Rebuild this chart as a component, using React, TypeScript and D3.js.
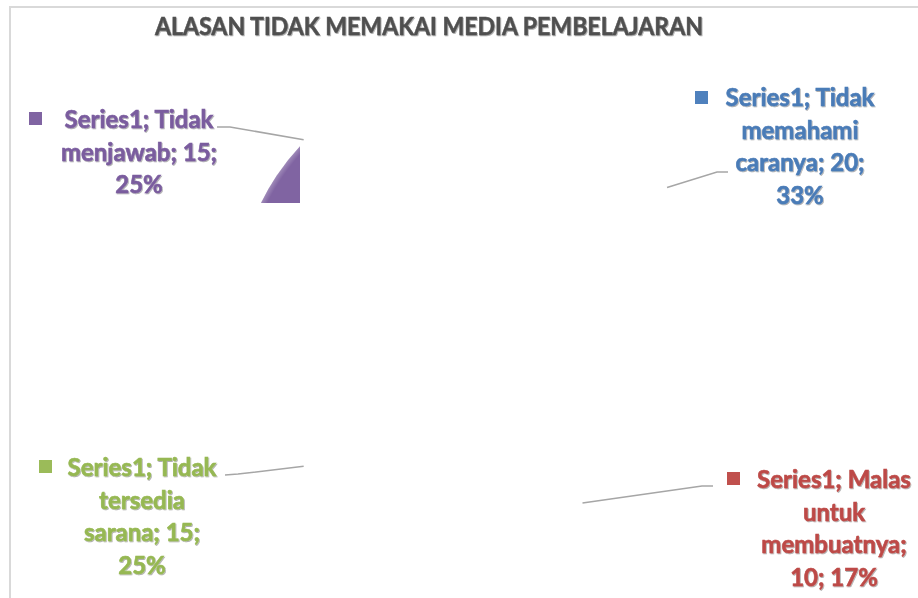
import React from "react";
import * as d3 from "d3";

const title = "ALASAN TIDAK MEMAKAI MEDIA PEMBELAJARAN";
const seriesName = "Series1";
const categories = ["Tidak memahami caranya", "Malas untuk membuatnya", "Tidak tersedia sarana", "Tidak menjawab"];
const values = [20, 10, 15, 15];
const colors = ["#4F81BD", "#C0504D", "#9BBB59", "#8064A2"];
const textColors = ["#4A7BB7", "#BD4A47", "#96B852", "#7A5C9E"];

// layout (not data)
const W = 918, H = 598;
const center = { x: 467, y: 303 };
const radius = 229;
const leaderR = 231;
const lineGap = 32.5;
const labelLayout = [
  { cx: 800, b1: 106, sq: [695, 91], breaks: [2, 1, 2, 1], elbow: [717, 172], end: [728, 172] },
  { cx: 834, b1: 488, sq: [727, 472], breaks: [2, 1, 1, 2], elbow: [702, 486], end: [713, 486] },
  { cx: 142, b1: 476, sq: [39, 460], breaks: [2, 1, 2, 1], elbow: [238, 474], end: [225, 475] },
  { cx: 139, b1: 128, sq: [29, 112], breaks: [2, 2, 1], elbow: [230, 127], end: [217, 127] },
];

export default function App() {
  const total = d3.sum(values);
  const pct = d3.format(".0%");
  const pie = d3.pie<number>().sort(null).value((d) => d)(values);
  const arc = d3.arc<d3.PieArcDatum<number>>().innerRadius(0).outerRadius(radius);
  const line = d3.line();

  return (
    <svg width={W} height={H} style={{ position: "absolute", left: 0, top: 0, background: "#fff" }}>
      <defs>
        <clipPath id="pieclip" clipPathUnits="userSpaceOnUse">
          <rect x={0} y={0} width={300} height={203} />
        </clipPath>
        <radialGradient id="edge" cx={center.x} cy={center.y} r={radius} gradientUnits="userSpaceOnUse">
          <stop offset="0.975" stopColor="#fff" stopOpacity={0} />
          <stop offset="1" stopColor="#fff" stopOpacity={0.25} />
        </radialGradient>
        <filter id="ts" x="-5%" y="-20%" width="110%" height="140%">
          <feDropShadow dx="0.8" dy="1" stdDeviation="0.7" floodColor="#000" floodOpacity="0.35" />
        </filter>
      </defs>
      <rect x={10} y={7} width={2000} height={2000} fill="#fff" stroke="#d9d9d9" strokeWidth={2} />
      <text
        x={429}
        y={35}
        textAnchor="middle"
        fontFamily="Lato, 'Open Sans', sans-serif"
        fontWeight={700}
        fontSize={24}
        fill="#505050"
        stroke="#505050"
        strokeWidth={0.5}
        textLength={548}
        lengthAdjust="spacingAndGlyphs"
        filter="url(#ts)"
      >
        {title}
      </text>
      <g clipPath="url(#pieclip)">
        <g transform={`translate(${center.x},${center.y})`}>
          {pie.map((p, i) => (
            <path key={i} d={arc(p) || ""} fill={colors[i]} />
          ))}
        </g>
        <circle cx={center.x} cy={center.y} r={radius} fill="url(#edge)" />
      </g>
      {pie.map((p, i) => {
        const L = labelLayout[i];
        const mid = (p.startAngle + p.endAngle) / 2;
        const sx = center.x + leaderR * Math.sin(mid);
        const sy = center.y - leaderR * Math.cos(mid);
        const label = `${seriesName}; ${categories[i]}; ${values[i]}; ${pct(values[i] / total)}`;
        const words = label.split(" ");
        const lines: string[] = [];
        let k = 0;
        L.breaks.forEach((n) => {
          lines.push(words.slice(k, k + n).join(" "));
          k += n;
        });
        return (
          <g key={i}>
            <path
              d={line([[sx, sy], L.elbow as [number, number], L.end as [number, number]]) || ""}
              fill="none"
              stroke="#a6a6a6"
              strokeWidth={1.5}
            />
            <rect x={L.sq[0]} y={L.sq[1]} width={13} height={13} fill={colors[i]} />
            <text
              textAnchor="middle"
              fontFamily="Lato, 'Open Sans', sans-serif"
              fontWeight={700}
              fontSize={24}
              fill={textColors[i]}
              stroke={textColors[i]}
              strokeWidth={0.6}
              filter="url(#ts)"
            >
              {lines.map((t, j) => (
                <tspan key={j} x={L.cx} y={L.b1 + j * lineGap}>
                  {t}
                </tspan>
              ))}
            </text>
          </g>
        );
      })}
    </svg>
  );
}
